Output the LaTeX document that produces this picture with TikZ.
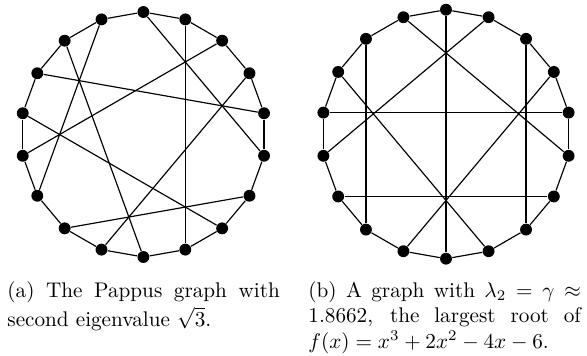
\documentclass[tikz,border=0pt]{standalone}
\begin{document}
\begin{tikzpicture}[x=0.4717pt,y=-0.4717pt,
  vtx/.style={circle,fill=black,inner sep=0pt,minimum size=5.6pt},
  edge/.style={line width=0.55pt},
  capt/.style={anchor=north west,inner sep=0pt,text width=128.5pt,align=justify,font=\normalsize}]
\useasboundingbox (0,0) rectangle (587,355);
% graph (a): Pappus graph; graph (b)
\foreach \k in {0,...,17}{
  \node[vtx] (a\k) at ({143.4+122.5*cos(90-20*\k)},{134.5-122.5*sin(90-20*\k)}) {};
  \node[vtx] (b\k) at ({446+124.5*cos(90-20*\k)},{134.2-124.5*sin(90-20*\k)}) {};
}
\foreach \k [evaluate=\k as \n using {int(mod(\k+1,18))}] in {0,...,17}{
  \draw[edge] (a\k) -- (a\n);
  \draw[edge] (b\k) -- (b\n);
}
\foreach \i/\j in {0/5,1/8,2/13,3/10,4/15,6/11,7/14,9/16,17/12}
  \draw[edge] (a\i) -- (a\j);
\foreach \i/\j in {0/9,17/5,1/13,16/11,2/7,15/8,3/10,14/4,12/6}
  \draw[edge] (b\i) -- (b\j);
\node[capt] (ca) at (7,279.2) {\hyphenpenalty=10000\tolerance=9999\strut(a) The Pappus graph with second eigenvalue $\sqrt{3}$.};
\node[capt] (cb) at (308,279.2) {\hyphenpenalty=10000\tolerance=9999\strut(b) A graph with $\lambda_2=\gamma\approx$ 1.8662, the largest root of $f(x)=x^3+2x^2-4x-6$.};
\end{tikzpicture}
\end{document}
